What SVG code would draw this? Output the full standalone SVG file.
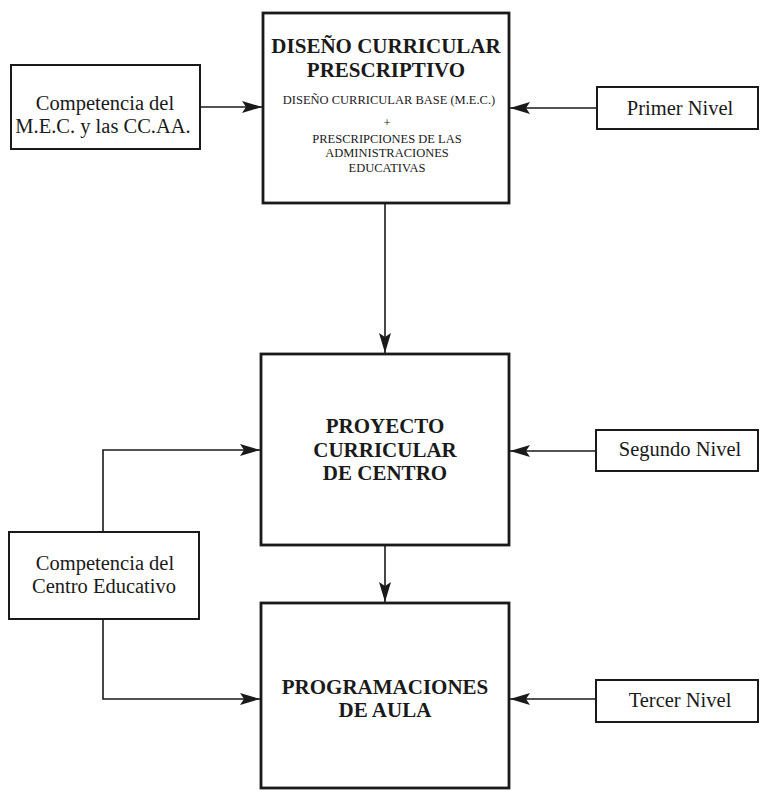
<svg xmlns="http://www.w3.org/2000/svg" width="763" height="792" viewBox="0 0 763 792">
<style>
text{font-family:"Liberation Serif","Times New Roman",serif;fill:#1a1a1a;text-anchor:middle}
.big{fill:#fff;stroke:#1a1a1a;stroke-width:2.8}
.small{fill:#fff;stroke:#1a1a1a;stroke-width:2}
.t{font-size:21px;font-weight:bold}
.s{font-size:12.5px}
.l{font-size:20.5px}
.c{fill:none;stroke:#1a1a1a;stroke-width:1.6}
</style>
<defs>
<marker id="ah" viewBox="0 0 20 12" refX="20" refY="6" markerWidth="20" markerHeight="12" markerUnits="userSpaceOnUse" orient="auto">
<path d="M0,0 L20,6 L0,12 L4,6 Z" fill="#1a1a1a"/>
</marker>
</defs>
<rect width="763" height="792" fill="#fff"/>
<g id="connectors">
<line class="c" x1="200" y1="107" x2="262" y2="107" marker-end="url(#ah)"/>
<line class="c" x1="597" y1="108" x2="510" y2="108" marker-end="url(#ah)"/>
<line class="c" x1="385" y1="204" x2="385" y2="353" marker-end="url(#ah)"/>
<line class="c" x1="596" y1="451" x2="510" y2="451" marker-end="url(#ah)"/>
<path class="c" d="M103,532 V450 H260" marker-end="url(#ah)"/>
<path class="c" d="M103,619 V699 H260" marker-end="url(#ah)"/>
<line class="c" x1="385" y1="546" x2="385" y2="602" marker-end="url(#ah)"/>
<line class="c" x1="596" y1="699" x2="510" y2="699" marker-end="url(#ah)"/>
</g>
<g id="diseno">
<rect class="big" x="263" y="13" width="246" height="190"/>
<text class="t" x="386" y="53">DISEÑO CURRICULAR</text>
<text class="t" x="386" y="77">PRESCRIPTIVO</text>
<text class="s" x="389" y="104">DISEÑO CURRICULAR BASE (M.E.C.)</text>
<text class="s" x="387" y="127">+</text>
<text class="s" x="387" y="143">PRESCRIPCIONES DE LAS</text>
<text class="s" x="387" y="157">ADMINISTRACIONES</text>
<text class="s" x="387" y="172">EDUCATIVAS</text>
</g>
<g id="competencia-mec">
<rect class="small" x="11" y="65" width="189" height="84"/>
<text class="l" x="105" y="110">Competencia del</text>
<text class="l" x="103" y="133">M.E.C. y las CC.AA.</text>
</g>
<g id="primer-nivel">
<rect class="small" x="597" y="87" width="161" height="42"/>
<text class="l" x="680" y="115">Primer Nivel</text>
</g>
<g id="proyecto">
<rect class="big" x="261" y="354" width="248" height="191"/>
<text class="t" x="385" y="433">PROYECTO</text>
<text class="t" x="385" y="457">CURRICULAR</text>
<text class="t" x="385" y="480">DE CENTRO</text>
</g>
<g id="segundo-nivel">
<rect class="small" x="596" y="430" width="162" height="41"/>
<text class="l" x="680" y="456">Segundo Nivel</text>
</g>
<g id="competencia-centro">
<rect class="small" x="9" y="532" width="190" height="87"/>
<text class="l" x="105" y="570">Competencia del</text>
<text class="l" x="104" y="593">Centro Educativo</text>
</g>
<g id="programaciones">
<rect class="big" x="261" y="603" width="248" height="185"/>
<text class="t" x="385" y="694">PROGRAMACIONES</text>
<text class="t" x="385" y="717">DE AULA</text>
</g>
<g id="tercer-nivel">
<rect class="small" x="596" y="680" width="162" height="42"/>
<text class="l" x="680" y="707">Tercer Nivel</text>
</g>
</svg>
